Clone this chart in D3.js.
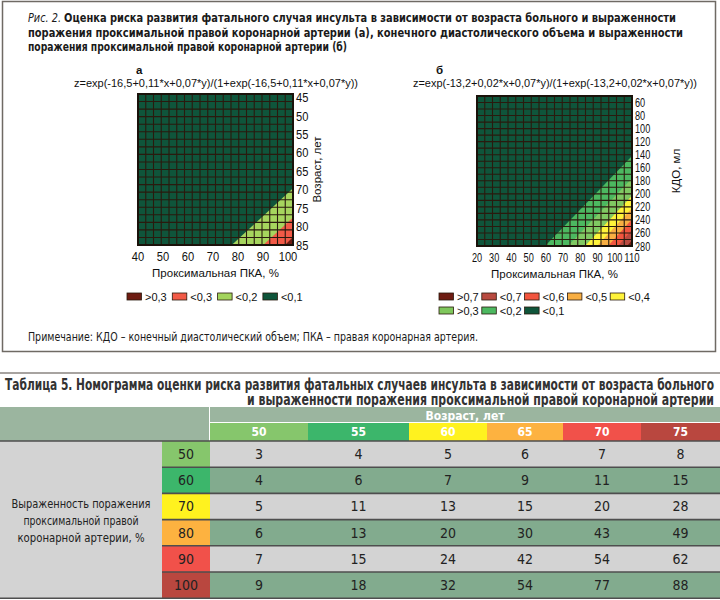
<!DOCTYPE html>
<html>
<head>
<meta charset="utf-8">
<script src="https://cdn.jsdelivr.net/npm/d3@7"></script>
<style>
  body { margin: 0; background: #fff; }
  svg { display: block; }
</style>
</head>
<body>
<div id="app"></div>
<script>
// ---- figure data ----
var captionLines = [
  ["Рис. 2.", "Оценка риска развития фатального случая инсульта в зависимости от возраста больного и выраженности"],
  ["", "поражения проксимальной правой коронарной артерии (а), конечного диастолического объема и выраженности"],
  ["", "поражения проксимальной правой коронарной артерии (б)"]
];
var noteText = "Примечание: КДО – конечный диастолический объем; ПКА – правая коронарная артерия.";

// chart а
var pkaTicksA = [40, 50, 60, 70, 80, 90, 100];
var ageTicksA = [45, 50, 55, 60, 65, 70, 75, 80, 85];
// contour borders: [x on the bottom edge, y on the right edge]
var bordersA = [[77.5, 69.6], [90.1, 77.5], [98.8, 82.8]];
var legendLabelsA = [">0,3", "<0,3", "<0,2", "<0,1"];
var legendColorsA = ["#6e1c12", "#f25a47", "#a3d45c", "#0f553b"];
var bandColorsA = ["#0f553b", "#a6d55e", "#f25a47", "#6e1c12"];

// chart б
var pkaTicksB = [20, 30, 40, 50, 60, 70, 80, 90, 100, 110];
var kdoTicksB = [60, 80, 100, 120, 140, 160, 180, 200, 220, 240, 260, 280];
var bordersB = [[59.5, 142], [72.8, 176], [82.7, 203], [89.7, 222], [96.1, 239], [101.9, 255], [107.1, 271]];
var legendLabelsB = [">0,7", "<0,7", "<0,6", "<0,5", "<0,4", ">0,3", "<0,2", "<0,1"];
var legendColorsB = ["#6e1c12", "#b84a40", "#f1553f", "#f8ae42", "#fff33a", "#7fc75c", "#4cb860", "#0f553b"];
var bandColorsB = ["#0f553b", "#4cb860", "#80c862", "#fff33a", "#f8ae42", "#f1553f", "#b84a40", "#6e1c12"];

// table 5
var tableTitle = [
  "Таблица 5. Номограмма оценки риска развития фатальных случаев инсульта в зависимости от возраста больного",
  "и выраженности поражения проксимальной правой коронарной артерии"
];
var ages = [50, 55, 60, 65, 70, 75];
var pkaLevels = [50, 60, 70, 80, 90, 100];
var riskValues = [
  [3, 4, 5, 6, 7, 8],
  [4, 6, 7, 9, 11, 15],
  [5, 11, 13, 15, 20, 28],
  [6, 13, 20, 30, 43, 49],
  [7, 15, 24, 42, 54, 62],
  [9, 18, 32, 54, 77, 88]
];
var levelColors = ["#86c66c", "#3cb66b", "#fff21f", "#fdb240", "#f1514a", "#b9473f"];
var rowLabel = ["Выраженность поражения", "проксимальной правой", "коронарной артерии, %"];

// ---- drawing ----
var width = 720, height = 600;
var SANS = "'Liberation Sans', Arial, sans-serif";
var NARROW = "'Liberation Sans Narrow', 'Arial Narrow', 'DejaVu Sans Condensed', sans-serif";

var svg = d3.select("#app").append("svg")
  .attr("width", width)
  .attr("height", height);

// frame of the figure
svg.append("rect")
  .attr("x", 2.5).attr("y", 1.5)
  .attr("width", 713).attr("height", 350)
  .attr("fill", "none")
  .attr("stroke", "#6f6a64")
  .attr("stroke-width", 1.5);

// caption: italic figure number, then bold text
svg.append("text")
  .attr("x", 28).attr("y", 22)
  .attr("font-family", NARROW).attr("font-size", 12.5).attr("font-style", "italic").attr("fill", "#1a1a1a")
  .attr("textLength", 33).attr("lengthAdjust", "spacingAndGlyphs")
  .text(captionLines[0][0]);
var capX = [64, 28, 28], capWidths = [612, 655, 319];
captionLines.forEach(function(line, i) {
  svg.append("text")
    .attr("x", capX[i]).attr("y", 22 + i * 14.5)
    .attr("font-family", NARROW).attr("font-size", 12.5).attr("font-weight", "bold")
    .attr("fill", "#1a1a1a")
    .attr("textLength", capWidths[i])
    .attr("lengthAdjust", "spacingAndGlyphs")
    .text(line[1]);
});

function drawChart(cfg) {
  var g = svg.append("g");
  var x = d3.scaleLinear().domain(cfg.xDomain).range([cfg.left, cfg.right]);
  var y = d3.scaleLinear().domain(cfg.yDomain).range([cfg.top, cfg.bottom]);
  var xMax = cfg.xDomain[1], yMax = cfg.yDomain[1];

  // base colour
  g.append("rect")
    .attr("x", cfg.left).attr("y", cfg.top)
    .attr("width", cfg.right - cfg.left).attr("height", cfg.bottom - cfg.top)
    .attr("fill", cfg.bands[0]);

  // contour bands (linear logit -> straight borders)
  g.selectAll(".band")
    .data(cfg.borders)
    .enter().append("path")
    .attr("class", "band")
    .attr("fill", (d, i) => cfg.bands[i + 1])
    .attr("d", d => "M" + x(d[0]) + "," + y(yMax) +
      "L" + x(xMax) + "," + y(yMax) +
      "L" + x(xMax) + "," + y(d[1]) + "Z");

  // grid
  var gx = d3.range(1, cfg.cols).map(i => cfg.left + i * (cfg.right - cfg.left) / cfg.cols);
  var gy = d3.range(1, cfg.rows).map(i => cfg.top + i * (cfg.bottom - cfg.top) / cfg.rows);
  g.selectAll(".vx").data(gx).enter().append("line")
    .attr("x1", d => d).attr("x2", d => d)
    .attr("y1", cfg.top).attr("y2", cfg.bottom)
    .attr("stroke", "#2a1a0e").attr("stroke-width", 1.1);
  g.selectAll(".hy").data(gy).enter().append("line")
    .attr("y1", d => d).attr("y2", d => d)
    .attr("x1", cfg.left).attr("x2", cfg.right)
    .attr("stroke", "#2a1a0e").attr("stroke-width", 1.1);
  g.append("rect")
    .attr("x", cfg.left).attr("y", cfg.top)
    .attr("width", cfg.right - cfg.left).attr("height", cfg.bottom - cfg.top)
    .attr("fill", "none").attr("stroke", "#1a120a").attr("stroke-width", 2);

  // ticks
  g.selectAll(".xt").data(cfg.xTicks).enter().append("text")
    .attr("x", d => x(d) - cfg.tickW * String(d).length / 2).attr("y", cfg.bottom + 16)
    .attr("font-family", SANS).attr("font-size", 12).attr("fill", "#111")
    .attr("textLength", d => cfg.tickW * String(d).length).attr("lengthAdjust", "spacingAndGlyphs")
    .text(d => d);
  g.selectAll(".yt").data(cfg.yTicks).enter().append("text")
    .attr("x", cfg.right + 3).attr("y", d => y(d) + 4.5)
    .attr("font-family", SANS).attr("font-size", 12).attr("fill", "#111")
    .attr("textLength", d => cfg.tickW * String(d).length).attr("lengthAdjust", "spacingAndGlyphs")
    .text(d => d);

  // titles
  g.append("text")
    .attr("x", (cfg.left + cfg.right) / 2).attr("y", cfg.bottom + 32)
    .attr("text-anchor", "middle")
    .attr("font-family", SANS).attr("font-size", 11.5).attr("fill", "#111")
    .text("Проксимальная ПКА, %");
  g.append("text")
    .attr("transform", "translate(" + cfg.yTitleX + "," + ((cfg.top + cfg.bottom) / 2) + ") rotate(-90)")
    .attr("text-anchor", "middle")
    .attr("font-family", SANS).attr("font-size", 11.5).attr("fill", "#111")
    .text(cfg.yTitle);
  g.append("text")
    .attr("x", cfg.labelX).attr("y", 74)
    .attr("font-family", SANS).attr("font-size", 11.5).attr("font-weight", "bold").attr("fill", "#111")
    .text(cfg.label);
  g.append("text")
    .attr("x", cfg.formulaX).attr("y", 87)
    .attr("font-family", SANS).attr("font-size", 10.5).attr("fill", "#111")
    .attr("textLength", cfg.formulaW).attr("lengthAdjust", "spacingAndGlyphs")
    .text(cfg.formula);

  // legend
  var lg = g.selectAll(".lg").data(cfg.legendLabels).enter().append("g")
    .attr("transform", (d, i) => {
      var r = Math.floor(i / cfg.legendPerRow), c = i % cfg.legendPerRow;
      return "translate(" + (cfg.legendX + c * cfg.legendStep) + "," + (293 + r * 14) + ")";
    });
  lg.append("rect")
    .attr("width", 14.5).attr("height", 7)
    .attr("fill", (d, i) => cfg.legendColors[i])
    .attr("stroke", "#2a1a0e").attr("stroke-width", 0.8);
  lg.append("text")
    .attr("x", 18).attr("y", 7.5)
    .attr("font-family", SANS).attr("font-size", 11).attr("fill", "#111")
    .text(d => d);
}

drawChart({
  left: 138, right: 293, top: 94, bottom: 245,
  xDomain: [40, 102], yDomain: [44, 85],
  cols: 20, rows: 20, tickW: 6.2,
  xTicks: pkaTicksA, yTicks: ageTicksA,
  borders: bordersA, bands: bandColorsA,
  yTitle: "Возраст, лет", yTitleX: 321,
  label: "а", labelX: 136,
  formula: "z=exp(-16,5+0,11*x+0,07*y)/(1+exp(-16,5+0,11*x+0,07*y))", formulaX: 74, formulaW: 284,
  legendLabels: legendLabelsA, legendColors: legendColorsA,
  legendX: 127, legendStep: 45.3, legendPerRow: 4
});

drawChart({
  left: 477, right: 632, top: 96, bottom: 246,
  xDomain: [20, 110], yDomain: [50, 280],
  cols: 20, rows: 23, tickW: 5.1,
  xTicks: pkaTicksB, yTicks: kdoTicksB,
  borders: bordersB, bands: bandColorsB,
  yTitle: "КДО, мл", yTitleX: 680,
  label: "б", labelX: 436,
  formula: "z=exp(-13,2+0,02*x+0,07*y)/(1+exp(-13,2+0,02*x+0,07*y))", formulaX: 413, formulaW: 284,
  legendLabels: legendLabelsB, legendColors: legendColorsB,
  legendX: 439, legendStep: 42.8, legendPerRow: 5
});

// note
svg.append("text")
  .attr("x", 28).attr("y", 341)
  .attr("font-family", NARROW).attr("font-size", 11.5).attr("fill", "#1a1a1a")
  .attr("textLength", 450).attr("lengthAdjust", "spacingAndGlyphs")
  .text(noteText);

// ---- table ----
svg.append("line")
  .attr("x1", 0).attr("x2", width).attr("y1", 373).attr("y2", 373)
  .attr("stroke", "#8a8580").attr("stroke-width", 1.5);

svg.append("text")
  .attr("x", 5).attr("y", 390)
  .attr("font-family", NARROW).attr("font-size", 15).attr("font-weight", "bold").attr("fill", "#333")
  .attr("textLength", 709).attr("lengthAdjust", "spacingAndGlyphs")
  .text(tableTitle[0]);
svg.append("text")
  .attr("x", 247).attr("y", 405)
  .attr("font-family", NARROW).attr("font-size", 15).attr("font-weight", "bold").attr("fill", "#333")
  .attr("textLength", 467).attr("lengthAdjust", "spacingAndGlyphs")
  .text(tableTitle[1]);

var colEdges = [210, 308, 409, 487, 563, 641, 720];
var headTop = 407, headMid = 423, dataTop = 441, rowH = 26.2;
var labelColL = 162;
var headFill = "#9bb59f";

svg.append("rect").attr("x", 0).attr("y", headTop).attr("width", width).attr("height", dataTop - headTop).attr("fill", headFill);
svg.append("text")
  .attr("x", (colEdges[0] + width) / 2).attr("y", headMid - 3.5)
  .attr("text-anchor", "middle")
  .attr("font-family", NARROW).attr("font-size", 12).attr("font-weight", "bold").attr("fill", "#fff")
  .text("Возраст, лет");

var ageCells = svg.selectAll(".age").data(ages).enter().append("g");
ageCells.append("rect")
  .attr("x", (d, i) => colEdges[i]).attr("y", headMid)
  .attr("width", (d, i) => colEdges[i + 1] - colEdges[i]).attr("height", dataTop - headMid)
  .attr("fill", (d, i) => levelColors[i]);
ageCells.append("text")
  .attr("x", (d, i) => (colEdges[i] + colEdges[i + 1]) / 2).attr("y", headMid + 13)
  .attr("text-anchor", "middle")
  .attr("font-family", NARROW).attr("font-size", 12).attr("font-weight", "bold").attr("fill", "#fff")
  .text(d => d);
svg.append("line").attr("x1", colEdges[0]).attr("x2", width).attr("y1", headMid - 0.5).attr("y2", headMid - 0.5)
  .attr("stroke", "#fff").attr("stroke-width", 1);
svg.append("line").attr("x1", colEdges[0] - 0.5).attr("x2", colEdges[0] - 0.5).attr("y1", headTop).attr("y2", dataTop)
  .attr("stroke", "#fff").attr("stroke-width", 1);

// left label cell
var rowLabelW = [139, 115, 127];
svg.append("rect").attr("x", 0).attr("y", dataTop).attr("width", labelColL).attr("height", rowH * pkaLevels.length).attr("fill", "#d3d3d3");
svg.selectAll(".rl").data(rowLabel).enter().append("text")
  .attr("x", (d, i) => 81 - rowLabelW[i] / 2).attr("y", (d, i) => dataTop + rowH * 3 - 12 + i * 17)
  .attr("font-family", NARROW).attr("font-size", 13).attr("fill", "#222")
  .attr("textLength", (d, i) => rowLabelW[i]).attr("lengthAdjust", "spacingAndGlyphs")
  .text(d => d);

var rows = svg.selectAll(".row").data(riskValues).enter().append("g")
  .attr("transform", (d, i) => "translate(0," + (dataTop + i * rowH) + ")");
rows.append("rect")
  .attr("x", colEdges[0]).attr("width", width - colEdges[0]).attr("height", rowH)
  .attr("fill", (d, i) => i % 2 ? "#82ab8e" : "#d3d3d3");
rows.append("rect")
  .attr("x", labelColL).attr("width", colEdges[0] - labelColL).attr("height", rowH)
  .attr("fill", (d, i) => levelColors[i]);
rows.append("text")
  .attr("x", (labelColL + colEdges[0]) / 2).attr("y", rowH / 2 + 5)
  .attr("text-anchor", "middle")
  .attr("font-family", NARROW).attr("font-size", 14).attr("fill", "#222")
  .text((d, i) => pkaLevels[i]);
rows.selectAll(".v").data(d => d).enter().append("text")
  .attr("x", (d, j) => (colEdges[j] + colEdges[j + 1]) / 2).attr("y", rowH / 2 + 5)
  .attr("text-anchor", "middle")
  .attr("font-family", NARROW).attr("font-size", 14).attr("fill", "#222")
  .text(d => d);

// row separators
svg.selectAll(".sep").data(d3.range(pkaLevels.length + 1)).enter().append("line")
  .attr("x1", i => (i === 0 || i === pkaLevels.length) ? 0 : labelColL)
  .attr("x2", width)
  .attr("y1", i => dataTop + i * rowH).attr("y2", i => dataTop + i * rowH)
  .attr("stroke", "#4e4e4e").attr("stroke-width", 1.6);
</script>
</body>
</html>
